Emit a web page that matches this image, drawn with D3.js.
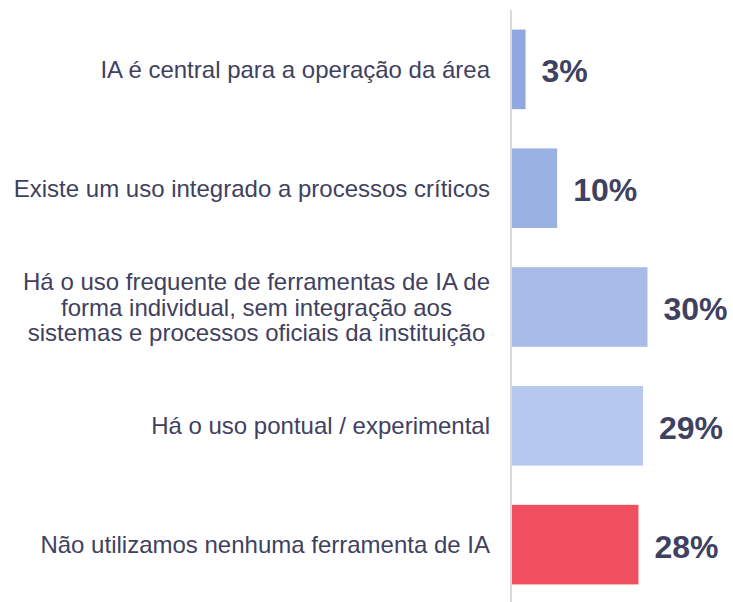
<!DOCTYPE html>
<html>
<head>
<meta charset="utf-8">
<script src="https://cdn.jsdelivr.net/npm/d3@7"></script>
<style>
  body { margin: 0; background: #fff; }
  svg { display: block; font-family: "Liberation Sans", Arial, sans-serif; }
</style>
</head>
<body>
<div id="chart"></div>
<script>
// Data
var categories = [
  ["IA é central para a operação da área"],
  ["Existe um uso integrado a processos críticos"],
  ["Há o uso frequente de ferramentas de IA de", "forma individual, sem integração aos", "sistemas e processos oficiais da instituição"],
  ["Há o uso pontual / experimental"],
  ["Não utilizamos nenhuma ferramenta de IA"]
];
var values = [3, 10, 30, 29, 28];
var barColors = ["#8fa8e2", "#9ab1e4", "#a8bbe7", "#b6c8ee", "#f04f60"];

function init() {
  var w = 733;
  var h = 602;
  var axisX = 512;
  var labelRight = 490;
  var textColor = "#3f4160";

  var svg = d3
    .select("#chart")
    .append("svg")
    .attr("width", w)
    .attr("height", h);

  var rows = categories.map(function (c, i) {
    return { lines: c, value: values[i], color: barColors[i], key: i };
  });

  // Scales
  var y = d3
    .scaleBand()
    .domain(rows.map((d) => d.key))
    .range([10, 604])
    .paddingInner(0.33)
    .paddingOuter(0.165);

  var x = d3.scaleLinear().domain([0, 30]).range([axisX, axisX + 135.5]);

  // Bars
  svg
    .selectAll(".bar")
    .data(rows)
    .enter()
    .append("rect")
    .attr("class", "bar")
    .attr("x", x(0))
    .attr("y", (d) => y(d.key))
    .attr("width", (d) => x(d.value) - x(0))
    .attr("height", y.bandwidth())
    .attr("fill", (d) => d.color);

  // Axis line
  svg
    .append("line")
    .attr("x1", axisX - 1)
    .attr("x2", axisX - 1)
    .attr("y1", 10)
    .attr("y2", h)
    .attr("stroke", "#d9d9e0")
    .attr("stroke-width", 2);

  // Value labels
  svg
    .selectAll(".value")
    .data(rows)
    .enter()
    .append("text")
    .attr("class", "value")
    .attr("x", (d) => x(d.value) + 16)
    .attr("y", (d) => y(d.key) + y.bandwidth() / 2 + 2)
    .attr("dominant-baseline", "central")
    .attr("font-size", "32px")
    .attr("font-weight", "bold")
    .attr("fill", textColor)
    .text((d) => d.value + "%");

  // Category labels (multi-line ones centred as a block, right edge at labelRight)
  var lineH = 25.6;
  rows.forEach(function (d) {
    var cy = y(d.key) + y.bandwidth() / 2;
    var t = svg
      .append("text")
      .attr("font-size", "24px")
      .attr("fill", textColor)
      .attr("text-anchor", "middle");
    var n = d.lines.length;
    var spans = d.lines.map(function (line, j) {
      return t
        .append("tspan")
        .attr("y", cy + (j - (n - 1) / 2) * lineH)
        .attr("dominant-baseline", "central")
        .text(line);
    });
    var maxW = d3.max(spans, (s) => s.node().getComputedTextLength());
    spans.forEach((s) => s.attr("x", labelRight - maxW / 2));
  });
}

window.onload = init;
</script>
</body>
</html>
